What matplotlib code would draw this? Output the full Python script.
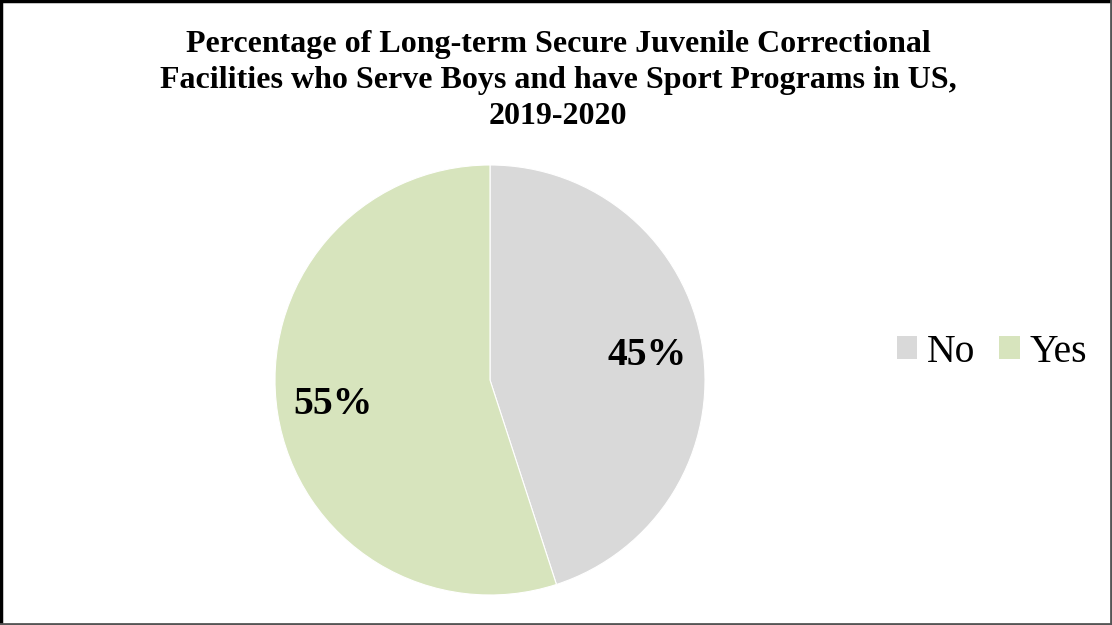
import matplotlib
matplotlib.use("Agg")
import matplotlib.pyplot as plt
from matplotlib.lines import Line2D
from matplotlib.patches import Patch

categories = ["No", "Yes"]
values = [45, 55]
colors = ["#D9D9D9", "#D7E4BD"]
title = ("Percentage of Long-term Secure Juvenile Correctional\n"
         "Facilities who Serve Boys and have Sport Programs in US,\n"
         "2019-2020")

W, H = 1112, 625
fig = plt.figure(figsize=(W / 100, H / 100), dpi=100)
fig.patch.set_facecolor("white")

cx, cy, r = 490, 380, 215
ax = fig.add_axes([(cx - r) / W, (H - cy - r) / H, 2 * r / W, 2 * r / H])
wedges, texts, autotexts = ax.pie(
    values, colors=colors, startangle=90, counterclock=False,
    autopct=lambda p: f"{p:.0f}%", pctdistance=0.74, radius=1,
    wedgeprops=dict(linewidth=0.8, edgecolor="white"),
    textprops=dict(family="Liberation Serif", fontweight="bold", fontsize=28.5, color="black"))
ax.set_xlim(-1, 1)
ax.set_ylim(-1, 1)
ax.set_aspect("equal")
ax.axis("off")

fig.text(558 / W, 1 - 30 / H, title, ha="center", va="top",
         family="Liberation Serif", fontweight="bold", fontsize=23, linespacing=1.31)

handles = [Patch(facecolor=c, edgecolor="none") for c in colors]
fig.legend(handles, categories, loc="center", bbox_to_anchor=(992 / W, 1 - 352 / H),
           ncol=2, frameon=False, prop=dict(family="Liberation Serif", size=28.5),
           handlelength=0.52, handleheight=0.52, handletextpad=0.25, columnspacing=0.6,
           borderpad=0, borderaxespad=0)

# border
fig.add_artist(Line2D([0.001, 0.001], [0, 1], transform=fig.transFigure, color="black", lw=2.5))
fig.add_artist(Line2D([0, 1], [0.998, 0.998], transform=fig.transFigure, color="black", lw=2.5))
fig.add_artist(Line2D([0.999, 0.999], [0, 1], transform=fig.transFigure, color="#555555", lw=2))
fig.add_artist(Line2D([0, 1], [0.002, 0.002], transform=fig.transFigure, color="#555555", lw=2))

fig.savefig("out.png", dpi=100)
